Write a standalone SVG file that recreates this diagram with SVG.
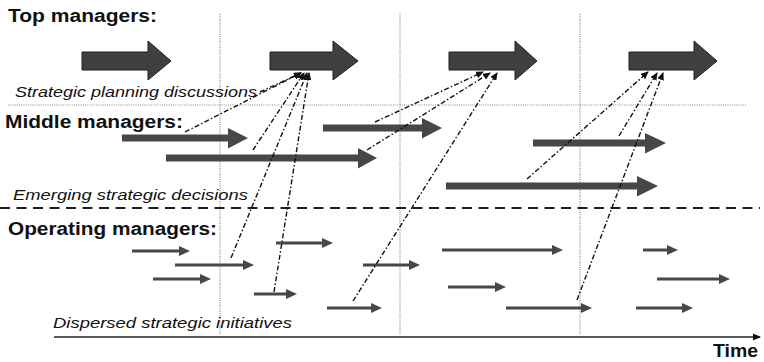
<svg xmlns="http://www.w3.org/2000/svg" width="764" height="362" viewBox="0 0 764 362">
  <style>
    .head { font-family: "Liberation Sans", Arial, sans-serif; font-weight: bold; font-size: 18px; fill: #111; }
    .note { font-family: "Liberation Sans", Arial, sans-serif; font-style: italic; font-size: 15.5px; fill: #111; }
    .grid { stroke: #8a8a8a; stroke-width: 1.2; stroke-dasharray: 1 1.2; fill: none; }
    .block { fill: #404040; stroke: #1e1e1e; stroke-width: 1; }
    .mid { fill: #474747; }
    .op { stroke: #474747; stroke-width: 3; fill: none; marker-end: url(#opHead); }
    .link { stroke: #111; stroke-width: 1.4; fill: none; stroke-dasharray: 5 2.2 1.5 2.2; marker-end: url(#linkHead); }
  </style>
  <defs>
    <marker id="opHead" markerUnits="userSpaceOnUse" markerWidth="12" markerHeight="10" refX="1" refY="5" orient="auto">
      <path d="M0,0 L11,5 L0,10 Z" fill="#474747"/>
    </marker>
    <marker id="linkHead" markerUnits="userSpaceOnUse" markerWidth="8" markerHeight="7" refX="7" refY="3.5" orient="auto">
      <path d="M0,0 L8,3.5 L0,7 Z" fill="#111"/>
    </marker>
    <marker id="axisHead" markerUnits="userSpaceOnUse" markerWidth="8" markerHeight="8" refX="7" refY="4" orient="auto">
      <path d="M0,0.5 L8,4 L0,7.5 Z" fill="#111"/>
    </marker>
  </defs>

  <!-- period separators -->
  <g id="grid">
    <line class="grid" x1="220" y1="14" x2="220" y2="335"/>
    <line class="grid" x1="400" y1="14" x2="400" y2="335"/>
    <line class="grid" x1="580" y1="14" x2="580" y2="335"/>
    <line class="grid" x1="8" y1="105" x2="747" y2="105"/>
    <line x1="0" y1="208" x2="760" y2="208" stroke="#1e1e1e" stroke-width="2" stroke-dasharray="10 6.5"/>
  </g>

  <!-- time axis -->
  <g id="time-axis">
    <line x1="54" y1="337" x2="760" y2="337" stroke="#222" stroke-width="1.6" marker-end="url(#axisHead)"/>
    <text class="head" x="758" y="357" text-anchor="end" textLength="45" lengthAdjust="spacingAndGlyphs">Time</text>
  </g>

  <!-- level labels -->
  <g id="labels">
    <text class="head" x="8" y="22" textLength="149" lengthAdjust="spacingAndGlyphs">Top managers:</text>
    <text class="note" x="15" y="97" textLength="242" lengthAdjust="spacingAndGlyphs">Strategic planning discussions</text>
    <text class="head" x="5" y="128" textLength="178" lengthAdjust="spacingAndGlyphs">Middle managers:</text>
    <text class="note" x="13" y="200" textLength="235" lengthAdjust="spacingAndGlyphs">Emerging strategic decisions</text>
    <text class="head" x="8" y="235" textLength="209" lengthAdjust="spacingAndGlyphs">Operating managers:</text>
    <text class="note" x="53" y="328" textLength="239" lengthAdjust="spacingAndGlyphs">Dispersed strategic initiatives</text>
  </g>

  <!-- top managers: planning rounds -->
  <g id="top-1"><path class="block" d="M82,52 H148 V41 L171,61 L148,80 V70 H82 Z"/></g>
  <g id="top-2"><path class="block" d="M270,52 H333 V41 L358,61 L333,80 V70 H270 Z"/></g>
  <g id="top-3"><path class="block" d="M449,52 H515 V41 L537,61 L515,80 V70 H449 Z"/></g>
  <g id="top-4"><path class="block" d="M629,52 H694 V41 L717,61 L694,80 V70 H629 Z"/></g>

  <!-- middle managers: emerging decisions -->
  <g id="mid-a"><path class="mid" d="M122,134.5 H228 V128 L248,138 L228,148.5 V141.5 H122 Z"/></g>
  <g id="mid-b"><path class="mid" d="M166,154.5 H358 V148 L377,158 L358,168.5 V161.5 H166 Z"/></g>
  <g id="mid-c"><path class="mid" d="M323,124.5 H422 V118 L442,128 L422,138.5 V131.5 H323 Z"/></g>
  <g id="mid-d"><path class="mid" d="M533,139.5 H645 V133 L666,143 L645,153.5 V146.5 H533 Z"/></g>
  <g id="mid-e"><path class="mid" d="M446,182.5 H637 V176 L658,186 L637,196.5 V189.5 H446 Z"/></g>

  <!-- operating managers: dispersed initiatives -->
  <g id="op-1"><line class="op" x1="132" y1="251" x2="180" y2="251"/></g>
  <g id="op-2"><line class="op" x1="175" y1="265" x2="244" y2="265"/></g>
  <g id="op-3"><line class="op" x1="153" y1="279" x2="201" y2="279"/></g>
  <g id="op-4"><line class="op" x1="276" y1="243" x2="323" y2="243"/></g>
  <g id="op-5"><line class="op" x1="254" y1="294" x2="287" y2="294"/></g>
  <g id="op-6"><line class="op" x1="363" y1="265" x2="410" y2="265"/></g>
  <g id="op-7"><line class="op" x1="327" y1="308" x2="372" y2="308"/></g>
  <g id="op-8"><line class="op" x1="442" y1="250" x2="553" y2="250"/></g>
  <g id="op-9"><line class="op" x1="448" y1="287" x2="496" y2="287"/></g>
  <g id="op-10"><line class="op" x1="506" y1="308" x2="582" y2="308"/></g>
  <g id="op-11"><line class="op" x1="643" y1="250" x2="668" y2="250"/></g>
  <g id="op-12"><line class="op" x1="657" y1="279" x2="720" y2="279"/></g>
  <g id="op-13"><line class="op" x1="636" y1="308" x2="683" y2="308"/></g>

  <!-- influence links feeding the planning rounds -->
  <g id="connectors">
    <line class="link" x1="260" y1="92" x2="301" y2="73"/>
    <line class="link" x1="185" y1="132" x2="301" y2="73"/>
    <line class="link" x1="253" y1="150" x2="304" y2="73"/>
    <line class="link" x1="231" y1="258" x2="307" y2="73"/>
    <line class="link" x1="274" y1="292" x2="309" y2="73"/>

    <line class="link" x1="375" y1="122" x2="483" y2="72"/>
    <line class="link" x1="367" y1="150" x2="490" y2="73"/>
    <line class="link" x1="353" y1="301" x2="497" y2="73"/>

    <line class="link" x1="527" y1="179" x2="648" y2="72"/>
    <line class="link" x1="619" y1="136" x2="657" y2="73"/>
    <line class="link" x1="577" y1="300" x2="663" y2="73"/>
  </g>
</svg>
